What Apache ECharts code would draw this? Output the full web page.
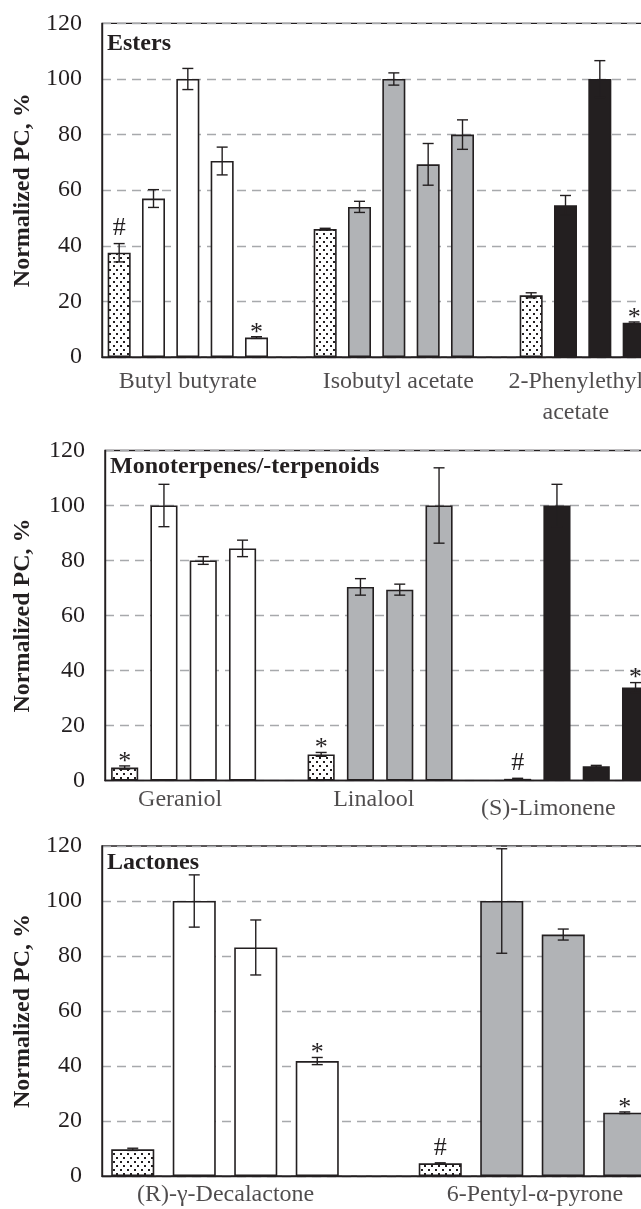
<!DOCTYPE html>
<html>
<head>
<meta charset="utf-8">
<script src="https://cdn.jsdelivr.net/npm/echarts@6/dist/echarts.min.js"></script>
<style>
html,body{margin:0;padding:0;background:#fff;}
#chart{width:641px;height:1209px;}
</style>
</head>
<body>
<div id="chart"></div>
<script>
// ---------------- DATA ----------------
const yTicks = [0, 20, 40, 60, 80, 100, 120];

const esterCategories = ['Butyl butyrate', 'Isobutyl acetate', '2-Phenylethyl\nacetate'];
const esterValues = [[37.5, 57, 100, 70.5, 7], [46, 54, 100, 69.3, 80], [22.2, 54.6, 100, 12.3, null]];
const esterErrors = [[3.3, 3.2, 3.8, 5, 0.3], [0.3, 2, 2.2, 7.5, 5.3], [0.9, 3.5, 6.6, 0.3, null]];
const esterMarks = [['#', '', '', '', '*'], ['', '', '', '', ''], ['', '', '', '*', '']];

const terpCategories = ['Geraniol', 'Linalool', '(S)-Limonene'];
const terpValues = [[4.7, 100, 80, 84.4], [9.5, 70.4, 69.4, 100], [0.6, 100, 5.2, 33.8]];
const terpErrors = [[0.6, 7.7, 1.4, 3], [0.7, 3, 2, 13.7], [0.2, 7.7, 0.3, 1.8]];
const terpMarks = [['*', '', '', ''], ['*', '', '', ''], ['#', '', '', '*']];

const lactCategories = ['(R)-\u03b3-Decalactone', '6-Pentyl-\u03b1-pyrone'];
const lactValues = [[9.7, 100, 83.1, 41.8], [4.6, 100, 87.8, 23]];
const lactErrors = [[0.4, 9.5, 10, 1.3], [0.2, 19, 2, 0.3]];
const lactMarks = [['', '', '', '*'], ['#', '', '', '*']];

const panelTitles = ['Esters', 'Monoterpenes/-terpenoids', 'Lactones'];
const yAxisTitle = 'Normalized PC, %';

// ---------------- STYLE / LAYOUT ----------------
const FONT = '"Liberation Serif", "Times New Roman", serif';
const INK = '#231f20';
const GRAY = '#b1b3b6';
const groupFills = [['#ffffff', GRAY, INK], ['#ffffff', GRAY, INK], ['#ffffff', GRAY]];

const layouts = [
  { left: 102, top: 23.4, width: 618, height: 333.6, gap: '33%', labelAt: [2, 8.13, 13.3], labelDist: [9, 9, 9], nameGap: 67, titleTop: 32 },
  { left: 105, top: 450.5, width: 589.5, height: 330, gap: '31%', labelAt: [1.41, 6.34, 10.78], labelDist: [4, 4, 13], nameGap: 70, titleTop: 455 },
  { left: 102, top: 846, width: 615, height: 330, gap: '30%', labelAt: [1.51, 6.54], labelDist: [3, 3], nameGap: 64, titleTop: 851 }
];

function dotPattern() {
  const c = document.createElement('canvas');
  c.width = 7; c.height = 8;
  const g = c.getContext('2d');
  g.fillStyle = '#ffffff'; g.fillRect(0, 0, 7, 8);
  g.fillStyle = INK;
  g.fillRect(1, 1, 2, 2);
  g.fillRect(4, 5, 2, 2);
  return { image: c, repeat: 'repeat' };
}
const DOTS = dotPattern();

const panels = [
  { cats: esterCategories, vals: esterValues, errs: esterErrors, marks: esterMarks },
  { cats: terpCategories, vals: terpValues, errs: terpErrors, marks: terpMarks },
  { cats: lactCategories, vals: lactValues, errs: lactErrors, marks: lactMarks }
];

const grids = [], xAxes = [], yAxes = [], series = [], titles = [];

panels.forEach((p, k) => {
  const L = layouts[k];
  const perGroup = p.vals[0].length + 1;
  const nSlots = p.vals.length * perGroup;
  const slots = [], barData = [], errData = [], slotMarks = [];
  for (let g = 0; g < p.vals.length; g++) {
    for (let j = 0; j < perGroup; j++) {
      const idx = g * perGroup + j;
      slots.push(String(idx));
      const v = j < p.vals[g].length ? p.vals[g][j] : null;
      if (v == null) { barData.push(null); slotMarks.push(''); continue; }
      const fill = j === 0 ? DOTS : groupFills[k][g];
      barData.push({ value: v, itemStyle: { color: fill } });
      slotMarks.push(p.marks[g][j]);
      errData.push([idx, v, p.errs[g][j] || 0, idx]);
    }
  }
  grids.push({
    left: L.left, top: L.top, width: L.width, height: L.height,
    show: true, borderColor: INK, borderWidth: 1.4,
    containLabel: false, outerBoundsMode: 'none'
  });
  xAxes.push({
    type: 'category', gridIndex: k, data: slots, boundaryGap: true,
    axisLine: { show: true, onZero: false, lineStyle: { color: INK, width: 1.4 } },
    axisTick: { show: false }, axisLabel: { show: false }, splitLine: { show: false }
  });
  xAxes.push({
    type: 'value', gridIndex: k, min: -0.5, max: nSlots - 0.5, show: false,
    axisLine: { onZero: false }, splitLine: { show: false }
  });
  yAxes.push({
    type: 'value', gridIndex: k, min: yTicks[0], max: yTicks[yTicks.length - 1], interval: yTicks[1] - yTicks[0],
    name: yAxisTitle, nameLocation: 'middle', nameGap: L.nameGap,
    nameTextStyle: { fontFamily: FONT, fontSize: 24, fontWeight: 'bold', color: INK },
    axisLine: { show: true, onZero: false, lineStyle: { color: INK, width: 1.4 } },
    axisTick: { show: false },
    axisLabel: { fontFamily: FONT, fontSize: 24, color: INK, margin: 20 },
    splitLine: { show: true, lineStyle: { color: '#a7a9ac', width: 1.3, type: [9, 6] } }
  });
  series.push({
    type: 'bar', xAxisIndex: 2 * k, yAxisIndex: k, data: barData,
    barCategoryGap: L.gap,
    itemStyle: { borderColor: INK, borderWidth: 1.6 },
    emphasis: { disabled: true }, animation: false, z: 2
  });
  series.push({
    type: 'custom', xAxisIndex: 2 * k, yAxisIndex: k, data: errData, z: 3, animation: false,
    renderItem: function (params, api) {
      const i = api.value(0), v = api.value(1), e = api.value(2);
      const mark = slotMarks[api.value(3)];
      const top = api.coord([i, v + e]);
      const bot = api.coord([i, v - e]);
      const x = top[0], cap = 5.5;
      const st = { stroke: INK, lineWidth: 1.4 };
      const children = [];
      if (e > 0) {
        children.push({ type: 'line', shape: { x1: x, y1: top[1], x2: x, y2: bot[1] }, style: st });
        children.push({ type: 'line', shape: { x1: x - cap, y1: top[1], x2: x + cap, y2: top[1] }, style: st });
        children.push({ type: 'line', shape: { x1: x - cap, y1: bot[1], x2: x + cap, y2: bot[1] }, style: st });
      }
      if (mark) {
        children.push({
          type: 'text',
          style: {
            text: mark, x: x, y: mark === '*' ? top[1] + 9 : top[1] - 2,
            align: 'center', verticalAlign: 'bottom',
            font: '26px ' + FONT, fill: INK
          }
        });
      }
      return { type: 'group', children: children };
    }
  });
  series.push({
    type: 'scatter', xAxisIndex: 2 * k + 1, yAxisIndex: k, clip: false, silent: true,
    symbolSize: 0.1, itemStyle: { color: 'rgba(0,0,0,0)' }, animation: false,
    data: p.cats.map((c, g) => ({
      value: [L.labelAt[g], 0], name: c,
      label: { distance: L.labelDist[g] }
    })),
    label: {
      show: true, position: 'bottom', formatter: '{b}',
      fontFamily: FONT, fontSize: 24, color: INK, lineHeight: 31, align: 'center'
    }
  });
  titles.push({
    text: panelTitles[k], left: L.left + 5, top: L.titleTop, padding: 0,
    textStyle: { fontFamily: FONT, fontSize: 24, fontWeight: 'bold', color: INK }
  });
});

const chart = echarts.init(document.getElementById('chart'), null, { renderer: 'canvas' });
chart.setOption({
  backgroundColor: '#ffffff',
  animation: false,
  title: titles,
  grid: grids,
  xAxis: xAxes,
  yAxis: yAxes,
  series: series
});
</script>
</body>
</html>
